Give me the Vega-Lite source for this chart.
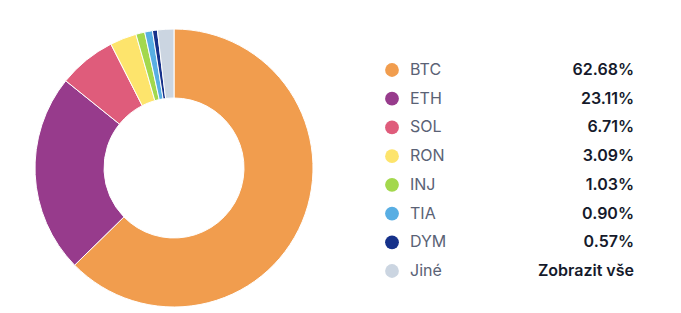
{
  "$schema": "https://vega.github.io/schema/vega-lite/v6.json",
  "padding": {"left": 33, "top": 27, "right": 5, "bottom": 5},
  "spacing": 64,
  "background": "white",
  "config": {"view": {"stroke": null}, "font": "Inter"},
  "datasets": {
    "coins": [
      {"coin": "BTC", "rank": 1, "share": 62.68, "value": "62.68%"},
      {"coin": "ETH", "rank": 2, "share": 23.11, "value": "23.11%"},
      {"coin": "SOL", "rank": 3, "share": 6.71, "value": "6.71%"},
      {"coin": "RON", "rank": 4, "share": 3.09, "value": "3.09%"},
      {"coin": "INJ", "rank": 5, "share": 1.03, "value": "1.03%"},
      {"coin": "TIA", "rank": 6, "share": 0.90, "value": "0.90%"},
      {"coin": "DYM", "rank": 7, "share": 0.57, "value": "0.57%"},
      {"coin": "Jiné", "rank": 8, "share": 1.91, "value": "Zobrazit vše"}
    ]
  },
  "hconcat": [
    {
      "width": 278,
      "height": 278,
      "data": {"name": "coins"},
      "mark": {"type": "arc", "innerRadius": 70, "outerRadius": 139, "stroke": "white", "strokeWidth": 1},
      "encoding": {
        "theta": {"field": "share", "type": "quantitative", "stack": true},
        "order": {"field": "rank", "type": "quantitative"},
        "color": {
          "field": "coin",
          "type": "nominal",
          "legend": null,
          "scale": {
            "domain": ["BTC", "ETH", "SOL", "RON", "INJ", "TIA", "DYM", "Jiné"],
            "range": ["#F19D4E", "#973B8C", "#DF5C7B", "#FDE46C", "#A3D84D", "#58AEE3", "#16318A", "#CBD5E1"]
          }
        }
      }
    },
    {
      "width": 260,
      "height": 278,
      "data": {"name": "coins"},
      "encoding": {
        "y": {
          "field": "coin",
          "type": "nominal",
          "axis": null,
          "scale": {"type": "point", "padding": 0, "range": [41, 242], "domain": ["BTC", "ETH", "SOL", "RON", "INJ", "TIA", "DYM", "Jiné"]}
        }
      },
      "layer": [
        {
          "mark": {"type": "point", "filled": true, "opacity": 1, "size": 190},
          "encoding": {
            "x": {"datum": 13, "type": "quantitative", "axis": null, "scale": {"domain": [0, 260], "nice": false}},
            "color": {
              "field": "coin",
              "type": "nominal",
              "legend": null,
              "scale": {
                "domain": ["BTC", "ETH", "SOL", "RON", "INJ", "TIA", "DYM", "Jiné"],
                "range": ["#F19D4E", "#973B8C", "#DF5C7B", "#FDE46C", "#A3D84D", "#58AEE3", "#16318A", "#CBD5E1"]
              }
            }
          }
        },
        {
          "mark": {"type": "text", "align": "left", "baseline": "middle", "fontSize": 16, "color": "#5A6275"},
          "encoding": {
            "x": {"datum": 31, "type": "quantitative"},
            "text": {"field": "coin"}
          }
        },
        {
          "mark": {"type": "text", "align": "right", "baseline": "middle", "fontSize": 16, "fontWeight": 600, "color": "#151A2B"},
          "encoding": {
            "x": {"datum": 255, "type": "quantitative"},
            "text": {"field": "value"}
          }
        }
      ]
    }
  ]
}
